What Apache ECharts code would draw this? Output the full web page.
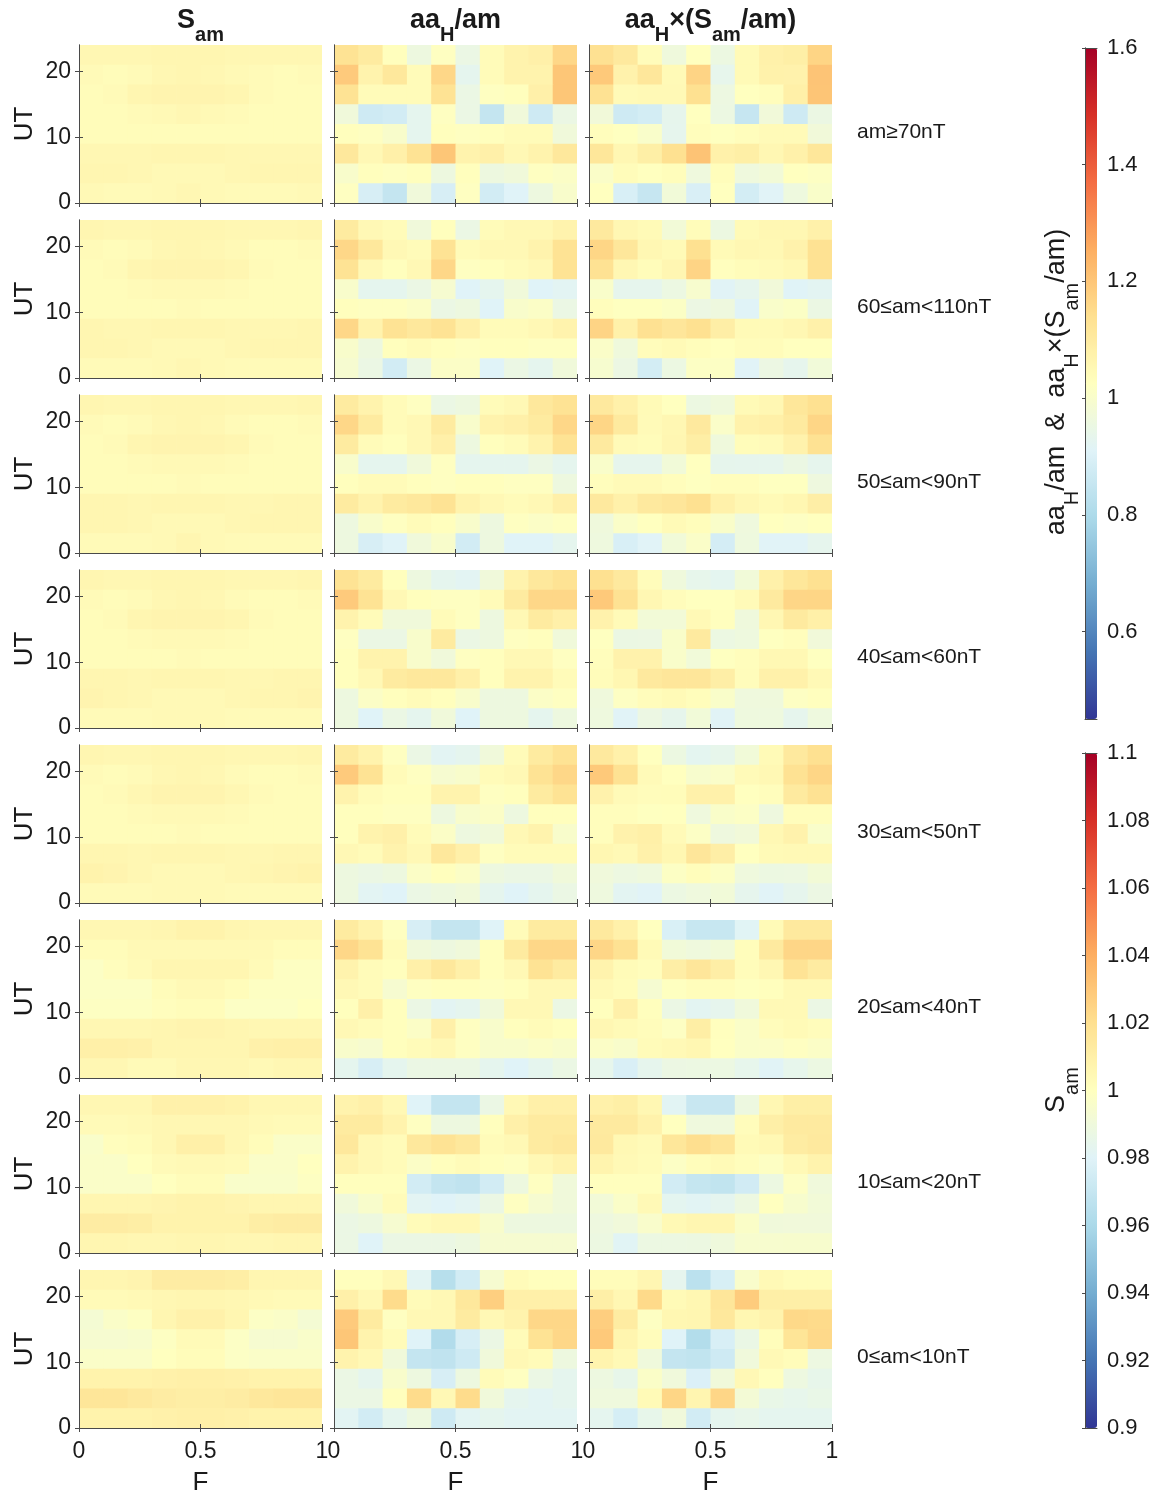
<!DOCTYPE html>
<html>
<head>
<meta charset="utf-8">
<script src="https://cdn.jsdelivr.net/npm/echarts@6/dist/echarts.min.js"></script>
<style>
html,body{margin:0;padding:0;background:#ffffff;}
#main{width:1158px;height:1496px;}
</style>
</head>
<body>
<div id="main"></div>
<script>
// ---------------- data ----------------
// bin centres: F (columns, left to right) and UT (rows, top to bottom)
const fBins = [0.05, 0.15, 0.25, 0.35, 0.45, 0.55, 0.65, 0.75, 0.85, 0.95];
const utBins = [22.5, 19.5, 16.5, 13.5, 10.5, 7.5, 4.5, 1.5];

const fTicks = [0, 0.5, 1];
const utTicks = [0, 10, 20];
const ratioTicks = [0.6, 0.8, 1, 1.2, 1.4, 1.6];
const samTicks = [0.9, 0.92, 0.94, 0.96, 0.98, 1, 1.02, 1.04, 1.06, 1.08, 1.1];

const columnTitles = ['{m|S}{s|am}', '{m|aa}{s|H}{m|/am}', '{m|aa}{s|H}{m|×(S}{s|am}{m|/am)}'];
const rowLabels = ['am≥70nT', '60≤am<110nT', '50≤am<90nT', '40≤am<60nT',
                   '30≤am<50nT', '20≤am<40nT', '10≤am<20nT', '0≤am<10nT'];

// S_am  (rows: UT 22.5 ... 1.5, columns: F 0.05 ... 0.95)
const samR1 = [
 [1.005,1.005,1.005,1.006,1.006,1.006,1.005,1.005,1.005,1.005],
 [1.003,1.002,1.003,1.005,1.006,1.005,1.004,1.003,1.002,1.003],
 [1.002,1.003,1.006,1.007,1.007,1.007,1.006,1.003,1.002,1.002],
 [1.002,1.002,1.003,1.004,1.005,1.004,1.003,1.002,1.002,1.002],
 [1.002,1.002,1.002,1.002,1.002,1.002,1.002,1.002,1.002,1.002],
 [1.005,1.005,1.005,1.006,1.006,1.006,1.005,1.005,1.005,1.005],
 [1.006,1.006,1.005,1.004,1.004,1.004,1.005,1.006,1.006,1.006],
 [1.004,1.003,1.003,1.004,1.005,1.004,1.003,1.003,1.003,1.004]];
const samR2 = [
 [1.006,1.005,1.005,1.006,1.006,1.006,1.005,1.005,1.005,1.006],
 [1.003,1.002,1.003,1.005,1.006,1.005,1.004,1.002,1.002,1.003],
 [1.002,1.003,1.006,1.007,1.007,1.007,1.006,1.003,1.002,1.002],
 [1.002,1.002,1.003,1.004,1.004,1.004,1.003,1.002,1.002,1.002],
 [1.002,1.002,1.002,1.002,1.003,1.002,1.002,1.002,1.002,1.002],
 [1.006,1.005,1.005,1.006,1.006,1.006,1.005,1.005,1.005,1.006],
 [1.006,1.006,1.005,1.004,1.004,1.004,1.005,1.006,1.006,1.006],
 [1.003,1.003,1.003,1.004,1.005,1.004,1.003,1.003,1.003,1.003]];
const samR3 = [
 [1.006,1.005,1.005,1.006,1.006,1.006,1.005,1.005,1.005,1.006],
 [1.003,1.002,1.003,1.005,1.006,1.005,1.003,1.002,1.002,1.003],
 [1.002,1.003,1.006,1.007,1.007,1.007,1.006,1.003,1.002,1.002],
 [1.002,1.002,1.003,1.004,1.004,1.004,1.003,1.002,1.002,1.002],
 [1.002,1.002,1.002,1.002,1.003,1.002,1.002,1.002,1.002,1.002],
 [1.006,1.006,1.005,1.006,1.006,1.006,1.005,1.005,1.006,1.006],
 [1.006,1.006,1.005,1.004,1.004,1.004,1.005,1.006,1.006,1.006],
 [1.003,1.003,1.003,1.004,1.006,1.004,1.003,1.003,1.003,1.003]];
const samR4 = [
 [1.006,1.005,1.005,1.006,1.006,1.006,1.005,1.005,1.005,1.006],
 [1.003,1.002,1.003,1.005,1.006,1.005,1.003,1.002,1.002,1.003],
 [1.002,1.003,1.006,1.007,1.007,1.007,1.006,1.003,1.002,1.002],
 [1.002,1.002,1.003,1.004,1.004,1.004,1.003,1.002,1.002,1.002],
 [1.002,1.002,1.002,1.002,1.003,1.002,1.002,1.002,1.002,1.002],
 [1.006,1.006,1.005,1.006,1.006,1.006,1.005,1.005,1.006,1.006],
 [1.007,1.006,1.005,1.004,1.004,1.004,1.005,1.006,1.006,1.007],
 [1.003,1.003,1.003,1.004,1.004,1.004,1.003,1.003,1.003,1.003]];
const samR5 = [
 [1.006,1.005,1.005,1.006,1.006,1.006,1.005,1.005,1.005,1.006],
 [1.003,1.002,1.003,1.005,1.006,1.005,1.003,1.002,1.002,1.003],
 [1.002,1.003,1.005,1.007,1.007,1.007,1.005,1.003,1.002,1.002],
 [1.002,1.002,1.003,1.004,1.004,1.004,1.003,1.002,1.002,1.002],
 [1.002,1.002,1.002,1.002,1.003,1.002,1.002,1.002,1.002,1.002],
 [1.006,1.006,1.005,1.006,1.006,1.006,1.005,1.005,1.006,1.006],
 [1.008,1.007,1.005,1.004,1.004,1.004,1.005,1.006,1.007,1.008],
 [1.003,1.003,1.003,1.004,1.004,1.004,1.003,1.003,1.003,1.003]];
const samR6 = [
 [1.005,1.005,1.005,1.006,1.008,1.008,1.006,1.005,1.005,1.005],
 [1.002,1.002,1.004,1.004,1.004,1.004,1.004,1.004,1.002,1.002],
 [0.998,1.001,1.003,1.006,1.006,1.006,1.006,1.003,0.999,0.999],
 [0.998,0.998,0.998,1.002,1.004,1.004,1.002,0.999,0.999,0.999],
 [0.999,0.999,0.999,1.001,1.002,1.002,0.998,0.998,0.998,1.000],
 [1.005,1.005,1.005,1.006,1.007,1.007,1.006,1.005,1.005,1.005],
 [1.010,1.010,1.009,1.006,1.006,1.006,1.006,1.009,1.010,1.010],
 [1.005,1.005,1.003,1.003,1.005,1.005,1.005,1.004,1.005,1.005]];
const samR7 = [
 [1.005,1.005,1.005,1.009,1.009,1.009,1.008,1.005,1.005,1.005],
 [1.003,1.003,1.004,1.005,1.005,1.005,1.005,1.004,1.003,1.003],
 [0.996,1.001,1.002,1.005,1.010,1.010,1.005,1.002,0.997,0.997],
 [0.997,0.997,1.000,1.003,1.004,1.004,1.003,0.997,0.997,1.000],
 [0.997,0.997,0.997,1.000,1.002,1.002,0.996,0.996,0.996,0.999],
 [1.006,1.006,1.006,1.007,1.008,1.008,1.007,1.006,1.006,1.006],
 [1.012,1.012,1.011,1.008,1.008,1.008,1.008,1.011,1.012,1.012],
 [1.006,1.006,1.005,1.005,1.006,1.006,1.005,1.005,1.006,1.006]];
const samR8 = [
 [1.006,1.006,1.007,1.012,1.012,1.012,1.011,1.006,1.006,1.006],
 [1.003,1.003,1.004,1.005,1.006,1.006,1.005,1.004,1.003,1.003],
 [0.993,0.997,0.999,1.006,1.009,1.009,1.006,0.998,0.997,0.993],
 [0.994,0.994,0.995,0.999,1.003,1.003,0.998,0.994,0.994,0.996],
 [0.997,0.997,0.997,1.000,1.002,1.002,0.998,0.997,0.997,0.997],
 [1.008,1.008,1.008,1.009,1.010,1.010,1.009,1.008,1.008,1.008],
 [1.016,1.016,1.014,1.012,1.011,1.011,1.012,1.015,1.016,1.016],
 [1.008,1.008,1.008,1.009,1.010,1.010,1.009,1.008,1.008,1.008]];

// aa_H / am  (rows: UT 22.5 ... 1.5, columns: F 0.05 ... 0.95)
const ratR1 = [
 [1.13,1.10,1.03,0.96,1.02,0.95,1.04,1.07,1.08,1.16],
 [1.19,1.07,1.11,1.04,1.16,0.93,1.04,1.07,1.07,1.20],
 [1.13,1.04,1.04,1.04,1.13,0.95,1.02,1.03,1.08,1.20],
 [0.97,0.87,0.88,0.93,1.02,0.95,0.85,0.97,0.87,0.95],
 [1.03,1.02,1.00,0.93,1.03,1.02,1.03,1.04,1.04,0.97],
 [1.11,1.05,1.08,1.13,1.20,1.07,1.08,1.05,1.07,1.11],
 [1.00,1.03,1.02,1.03,0.96,1.03,0.96,0.97,1.02,1.01],
 [1.02,0.89,0.85,0.97,0.89,1.02,0.88,0.91,0.96,1.00]];
const ratR2 = [
 [1.10,1.05,1.04,0.97,1.03,0.95,1.04,1.05,1.05,1.07],
 [1.16,1.11,1.05,1.04,1.13,1.04,1.05,1.05,1.07,1.13],
 [1.13,1.05,1.03,1.05,1.16,1.02,1.03,1.04,1.05,1.13],
 [1.00,0.93,0.93,0.95,0.99,0.91,0.93,0.97,0.91,0.92],
 [1.03,1.02,1.02,1.01,0.95,0.96,0.91,1.00,1.01,0.95],
 [1.16,1.07,1.13,1.11,1.13,1.08,1.04,1.04,1.05,1.07],
 [1.00,0.96,1.03,1.04,1.03,1.02,1.03,1.03,1.02,1.02],
 [0.99,0.95,0.88,0.95,1.01,1.01,0.91,0.95,0.93,0.97]];
const ratR3 = [
 [1.10,1.07,1.04,1.02,0.95,0.96,1.04,1.05,1.11,1.13],
 [1.16,1.10,1.04,1.05,1.10,1.00,1.07,1.08,1.10,1.16],
 [1.10,1.04,1.03,1.05,1.08,0.96,1.03,1.04,1.07,1.13],
 [1.00,0.93,0.93,0.97,1.02,0.93,0.93,0.93,0.95,0.93],
 [1.03,1.04,1.04,1.03,1.02,1.03,1.03,1.02,1.02,0.96],
 [1.10,1.07,1.10,1.11,1.13,1.07,1.05,1.04,1.05,1.08],
 [0.96,1.00,1.02,1.04,1.03,1.00,0.96,1.02,1.01,1.02],
 [0.96,0.89,0.91,0.97,1.00,0.88,0.96,0.91,0.91,0.93]];
const ratR4 = [
 [1.13,1.10,1.03,0.96,0.93,0.92,0.97,1.07,1.11,1.13],
 [1.19,1.13,1.05,1.03,1.02,1.02,1.04,1.10,1.16,1.16],
 [1.07,1.04,0.97,0.97,1.04,1.02,0.96,1.05,1.10,1.08],
 [1.02,0.95,0.95,1.00,1.10,0.95,0.96,1.02,1.03,0.97],
 [1.03,1.07,1.07,1.00,0.97,1.02,1.03,1.05,1.05,1.02],
 [1.03,1.05,1.10,1.11,1.11,1.08,1.03,1.07,1.07,1.04],
 [0.96,1.01,1.03,1.04,1.03,1.00,0.96,0.96,1.01,1.02],
 [0.96,0.91,0.95,0.93,0.97,0.91,0.96,0.96,0.93,0.96]];
const ratR5 = [
 [1.10,1.07,1.02,0.95,0.92,0.93,0.97,1.04,1.10,1.13],
 [1.19,1.13,1.04,1.02,0.99,1.00,1.04,1.05,1.13,1.16],
 [1.07,1.04,1.03,1.03,1.07,1.07,1.02,1.03,1.10,1.13],
 [1.03,1.03,1.02,1.02,0.96,1.00,1.01,0.96,1.03,1.03],
 [1.03,1.07,1.08,1.04,1.01,0.96,0.97,1.05,1.07,1.00],
 [1.05,1.04,1.07,1.05,1.11,1.08,1.02,1.04,1.04,1.04],
 [0.96,0.95,0.96,1.01,1.03,1.01,0.96,0.95,0.95,0.97],
 [0.96,0.92,0.91,0.95,0.96,0.97,0.93,0.91,0.93,0.95]];
const ratR6 = [
 [1.10,1.07,1.02,0.89,0.85,0.85,0.91,1.04,1.10,1.10],
 [1.16,1.13,1.04,0.97,0.96,0.97,1.03,1.10,1.16,1.16],
 [1.07,1.04,1.03,1.08,1.11,1.08,1.03,1.05,1.13,1.10],
 [1.05,1.04,0.99,1.02,1.03,1.03,1.02,1.03,1.05,1.05],
 [1.03,1.08,1.03,0.95,0.92,0.93,0.97,1.05,1.05,0.95],
 [1.05,1.04,1.03,1.01,1.08,1.02,1.00,1.03,1.04,1.03],
 [1.00,0.99,1.03,1.04,1.05,1.02,1.00,1.00,1.01,1.00],
 [0.93,0.89,0.93,0.95,0.95,0.95,0.93,0.91,0.93,0.95]];
const ratR7 = [
 [1.07,1.08,1.05,0.91,0.85,0.85,0.95,1.05,1.08,1.08],
 [1.10,1.10,1.07,1.02,0.96,0.96,1.03,1.08,1.10,1.10],
 [1.11,1.05,1.04,1.11,1.13,1.11,1.04,1.05,1.10,1.11],
 [1.07,1.05,1.04,1.01,1.03,1.04,1.03,1.02,1.05,1.07],
 [1.03,1.03,1.03,0.88,0.85,0.84,0.88,0.96,1.02,0.97],
 [0.97,1.00,1.04,0.92,0.91,0.92,0.95,1.02,0.99,0.97],
 [0.95,0.96,0.99,1.04,1.05,1.05,1.00,0.96,0.96,0.96],
 [0.95,0.91,0.95,0.95,0.95,0.96,0.99,0.99,0.99,0.99]];
const ratR8 = [
 [1.03,1.03,1.05,0.92,0.82,0.88,0.99,1.04,1.03,1.03],
 [1.08,1.05,1.15,1.04,1.05,1.11,1.18,1.08,1.08,1.08],
 [1.19,1.10,1.02,1.05,1.05,1.10,1.05,1.07,1.16,1.16],
 [1.20,1.07,1.04,0.91,0.81,0.89,0.95,1.04,1.13,1.16],
 [1.07,1.05,0.97,0.85,0.84,0.87,0.97,1.05,1.04,0.96],
 [0.95,0.93,1.00,0.96,0.89,0.96,1.04,1.02,0.95,0.93],
 [0.95,0.95,1.03,1.15,1.05,1.15,0.97,0.93,0.92,0.93],
 [0.92,0.88,0.93,0.96,0.87,0.92,0.93,0.92,0.92,0.92]];

const samPanels = [samR1, samR2, samR3, samR4, samR5, samR6, samR7, samR8];
const ratioPanels = [ratR1, ratR2, ratR3, ratR4, ratR5, ratR6, ratR7, ratR8];

// ---------------- styling / layout ----------------
const FONT = '"Liberation Sans", Arial, Helvetica, sans-serif';
const TXT = '#1a1a1a';
const FRAME = '#4a4a4a';
const RDYLBU = ['#313695','#4575b4','#74add1','#abd9e9','#e0f3f8','#ffffbf',
                '#fee090','#fdae61','#f46d43','#d73027','#a50026'];
const LEFTS = [79, 334, 589], PW = 243, TOP0 = 45, STEP = 175, PH = 158;
const F_HALF = (fBins[1] - fBins[0]) / 2;
const UT_HALF = (utBins[0] - utBins[1]) / 2;

function panelData(grid) {
  const out = [];
  grid.forEach((row, i) => row.forEach((v, j) => out.push([fBins[j], utBins[i], v])));
  return out;
}
function productGrid(a, b) {
  // aa_H x (S_am / am) = (aa_H / am) * S_am
  return a.map((row, i) => row.map((v, j) => +(v * b[i][j]).toFixed(4)));
}
function renderCell(params, api) {
  const f = api.value(0), ut = api.value(1);
  const p0 = api.coord([f - F_HALF, ut + UT_HALF]);
  const p1 = api.coord([f + F_HALF, ut - UT_HALF]);
  return {
    type: 'rect',
    shape: { x: p0[0], y: p0[1], width: p1[0] - p0[0] + 0.7, height: p1[1] - p0[1] + 0.7 },
    style: { fill: api.visual('color') }
  };
}

const grids = [], xAxes = [], yAxes = [], series = [];
const samIdx = [], ratioIdx = [];
const axisLine = { show: true, lineStyle: { color: FRAME, width: 1 } };
function ticks(vals, len) {
  return { show: true, inside: true, length: len, customValues: vals, lineStyle: { color: FRAME, width: 1 } };
}

for (let r = 0; r < 8; r++) {
  for (let c = 0; c < 3; c++) {
    const g = grids.length;
    const bottomRow = r === 7, leftCol = c === 0;
    grids.push({ left: LEFTS[c], top: TOP0 + STEP * r, width: PW, height: PH, outerBoundsMode: 'none' });
    xAxes.push({
      type: 'value', gridIndex: g, position: 'bottom', min: 0, max: 1, z: 5,
      axisLine, axisTick: ticks(fTicks, 4), splitLine: { show: false },
      axisLabel: { show: bottomRow, customValues: fTicks, fontSize: 23, fontFamily: FONT, color: TXT, margin: 12 },
      name: bottomRow ? 'F' : '', nameLocation: 'middle', nameGap: 42,
      nameTextStyle: { fontSize: 26, fontFamily: FONT, color: TXT }
    });
    xAxes.push({
      type: 'value', gridIndex: g, position: 'top', min: 0, max: 1, z: 5,
      axisLine, axisTick: ticks(fTicks, 4), splitLine: { show: false }, axisLabel: { show: false }
    });
    yAxes.push({
      type: 'value', gridIndex: g, position: 'left', min: 0, max: 24, z: 5,
      axisLine, axisTick: ticks(utTicks, 4), splitLine: { show: false },
      axisLabel: { show: leftCol, customValues: utTicks, fontSize: 23, fontFamily: FONT, color: TXT, margin: 8 },
      name: leftCol ? 'UT' : '', nameLocation: 'middle', nameRotate: 90, nameGap: 41,
      nameTextStyle: { fontSize: 26, fontFamily: FONT, color: TXT }
    });
    yAxes.push({
      type: 'value', gridIndex: g, position: 'right', min: 0, max: 24, z: 5,
      axisLine, axisTick: ticks(utTicks, 4), splitLine: { show: false }, axisLabel: { show: false }
    });
    const values = c === 0 ? samPanels[r] : (c === 1 ? ratioPanels[r] : productGrid(ratioPanels[r], samPanels[r]));
    (c === 0 ? samIdx : ratioIdx).push(series.length);
    series.push({
      type: 'custom', name: 'p' + r + '_' + c, xAxisIndex: 2 * g, yAxisIndex: 2 * g,
      clip: true, silent: true, renderItem: renderCell,
      encode: { x: 0, y: 1 }, data: panelData(values)
    });
  }
}

// colour-bar frames and tick labels
const CB = [
  { top: 48, height: 671, min: 0.45, max: 1.6, ticks: ratioTicks },
  { top: 753, height: 675, min: 0.9, max: 1.1, ticks: samTicks }
];
CB.forEach(cb => {
  const g = grids.length;
  grids.push({ left: 1085, top: cb.top, width: 12, height: cb.height, outerBoundsMode: 'none' });
  ['bottom', 'top'].forEach(pos => xAxes.push({
    type: 'value', gridIndex: g, position: pos, min: 0, max: 1, z: 10,
    axisLine, axisTick: { show: false }, axisLabel: { show: false }, splitLine: { show: false }
  }));
  yAxes.push({
    type: 'value', gridIndex: g, position: 'left', min: cb.min, max: cb.max, z: 10,
    axisLine, axisTick: { show: false }, axisLabel: { show: false }, splitLine: { show: false }
  });
  yAxes.push({
    type: 'value', gridIndex: g, position: 'right', min: cb.min, max: cb.max, z: 10,
    axisLine, axisTick: ticks(cb.ticks, 3), splitLine: { show: false },
    axisLabel: { show: true, customValues: cb.ticks, fontSize: 22, fontFamily: FONT, color: TXT, margin: 10 }
  });
});

const visualMap = [
  { type: 'continuous', min: 0.9, max: 1.1, dimension: 2, seriesIndex: samIdx,
    inRange: { color: RDYLBU }, calculable: false, orient: 'vertical',
    left: 1085, top: 753, itemWidth: 12, itemHeight: 675, padding: 0, text: null, hoverLink: false },
  { type: 'continuous', min: 0.45, max: 1.6, dimension: 2, seriesIndex: ratioIdx,
    inRange: { color: RDYLBU }, calculable: false, orient: 'vertical',
    left: 1085, top: 48, itemWidth: 12, itemHeight: 671, padding: 0, text: null, hoverLink: false }
];

// texts (subscripts sit at the bottom of a taller line box)
const titleRich = {
  m: { fontSize: 27, fontWeight: 'bold', fontFamily: FONT, fill: TXT, lineHeight: 28, verticalAlign: 'top' },
  s: { fontSize: 20, fontWeight: 'bold', fontFamily: FONT, fill: TXT, lineHeight: 38, verticalAlign: 'bottom' }
};
const cbRich = {
  m: { fontSize: 27, fontFamily: FONT, fill: TXT, lineHeight: 28, verticalAlign: 'top' },
  s: { fontSize: 20, fontFamily: FONT, fill: TXT, lineHeight: 39, verticalAlign: 'bottom' }
};
const graphic = [];
columnTitles.forEach((t, c) => graphic.push({
  type: 'text', x: LEFTS[c] + PW / 2, y: 7,
  style: { text: t, rich: titleRich, align: 'center', verticalAlign: 'top' }
}));
rowLabels.forEach((t, r) => graphic.push({
  type: 'text', x: 857, y: TOP0 + STEP * r + PH / 2 + 8,
  style: { text: t, fontSize: 21, fontFamily: FONT, fill: TXT, align: 'left', verticalAlign: 'middle' }
}));
graphic.push({
  type: 'text', x: 1063, y: 382, rotation: Math.PI / 2,
  style: { text: '{m|aa}{s|H}{m|/am  &  aa}{s|H}{m|×(S}{s|am}{m|/am)}', rich: cbRich, align: 'center', verticalAlign: 'middle' }
});
graphic.push({
  type: 'text', x: 1063, y: 1090, rotation: Math.PI / 2,
  style: { text: '{m|S}{s|am}', rich: cbRich, align: 'center', verticalAlign: 'middle' }
});

const chart = echarts.init(document.getElementById('main'), null, { renderer: 'canvas' });
chart.setOption({
  backgroundColor: '#ffffff',
  animation: false,
  grid: grids, xAxis: xAxes, yAxis: yAxes,
  visualMap, series, graphic
});
</script>
</body>
</html>
